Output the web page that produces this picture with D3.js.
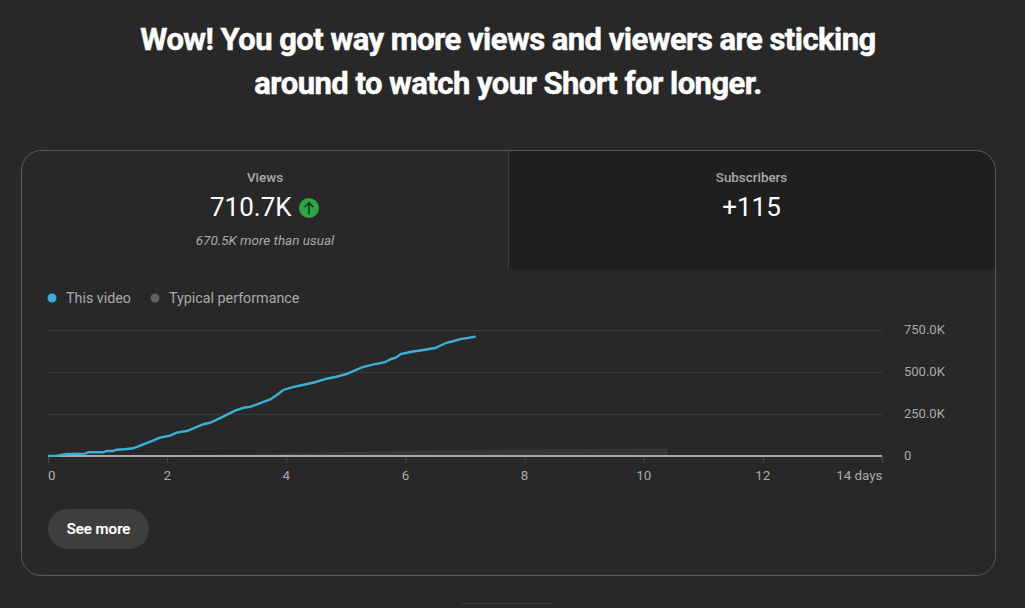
<!DOCTYPE html>
<html>
<head>
<meta charset="utf-8">
<title>Views</title>
<script src="https://cdn.jsdelivr.net/npm/d3@7/dist/d3.min.js"></script>
<style>
html,body{margin:0;padding:0;background:#282828;overflow:hidden}
svg{display:block}
text{font-family:Roboto,sans-serif}
</style>
</head>
<body>
<svg id="chart" width="1025" height="608"></svg>
<script>
// Days since publishing and cumulative views (thousands) for this video
const videoDays = [0,0.146,0.314,0.62,0.68,0.93,0.985,1.10,1.15,1.29,1.43,1.57,1.74,1.88,2.05,2.16,2.33,2.38,2.61,2.72,2.94,3.14,3.28,3.39,3.53,3.73,3.84,3.95,4.09,4.29,4.48,4.68,4.82,5.01,5.27,5.43,5.66,5.77,5.84,5.92,6.08,6.30,6.50,6.69,6.80,6.92,7.03,7.18];
const videoViews = [0,2,12,14,22,22,30,30,37.5,40,46,65,89,109,121,139,149,155,189,198,234,270,287,292,310,337,363,393,409,424,439,460,470,488,528,542,559,579,585,607,619,631,643,674,683,696,702,710.7];
// Typical-performance curve for the same period
const typicalDays = [0,1,2,3,4,5,6,7,8,9,10,10.4];
const typicalViews = [0,2,5,9,16,24,31,36,39,42,44,45];
const xTicks = [0,2,4,6,8,10,12,14];
const yTicks = [0,250,500,750];
const titleLines = ["Wow! You got way more views and viewers are sticking","around to watch your Short for longer."];
const legendLabels = ["This video","Typical performance"];
const legendColors = ["#3ab0d8","#606060"];

const svg = d3.select("#chart");
const x = d3.scaleLinear().domain([0,14]).range([48,882]);
const y = d3.scaleLinear().domain([0,750]).range([456,330]);

const yLabel = v => v === 0 ? "0" : d3.format(".1f")(v) + "K";
const xLabel = v => v === 14 ? "14 days" : String(v);

// Heading
svg.append("g").selectAll("text").data(titleLines).join("text")
  .attr("x",508).attr("y",(d,i)=>50+i*44)
  .attr("text-anchor","middle")
  .attr("font-size",31).attr("font-weight",700)
  .attr("letter-spacing",-0.54)
  .attr("fill","#fff").attr("stroke","#fff").attr("stroke-width",0.5).text(d=>d);

// Card with the darker inactive tab on the right
svg.append("path")
  .attr("d","M508.5 151 H975.5 A20 20 0 0 1 995.5 171 V269 H508.5 Z")
  .attr("fill","#1f1f1f");
svg.append("line").attr("x1",508.5).attr("x2",508.5).attr("y1",151).attr("y2",269).attr("stroke","#3d3d3d");
svg.append("rect").attr("x",21.5).attr("y",150.5).attr("width",974).attr("height",425).attr("rx",20)
  .attr("fill","none").attr("stroke","#5a5a5a");

// Metric tabs
const tab = (cx,label,value)=>{
  svg.append("text").attr("x",cx).attr("y",182).attr("text-anchor","middle")
    .attr("font-size",13.4).attr("font-weight",500).attr("fill","#aaa").text(label);
  return svg.append("text").attr("x",cx).attr("y",216).attr("text-anchor","middle")
    .attr("font-size",26).attr("fill","#fff").text(value);
};
tab(265,"Views","");
svg.append("text").attr("x",210).attr("y",216).attr("font-size",26).attr("fill","#fff").text("710.7K");
tab(751.5,"Subscribers","+115");
svg.append("circle").attr("cx",309).attr("cy",208).attr("r",10).attr("fill","#2ba640");
svg.append("path").attr("d","M309 214 V203 M304.8 207 L309 202.8 L313.2 207")
  .attr("fill","none").attr("stroke","#1c2b1f").attr("stroke-width",1.6);
svg.append("text").attr("x",265).attr("y",245).attr("text-anchor","middle")
  .attr("font-size",13.5).attr("font-style","italic").attr("fill","#aaa").text("670.5K more than usual");

// Legend
const legendX = [[52,66],[155,169]];
legendLabels.forEach((d,i)=>{
  svg.append("circle").attr("cx",legendX[i][0]).attr("cy",298).attr("r",4.5).attr("fill",legendColors[i]);
  svg.append("text").attr("x",legendX[i][1]).attr("y",303).attr("font-size",14.3).attr("fill","#aaa").text(d);
});

// Horizontal gridlines and value axis
svg.append("g").selectAll("line").data(yTicks.filter(d=>d>0)).join("line")
  .attr("x1",x.range()[0]).attr("x2",x.range()[1])
  .attr("y1",d=>y(d)+0.5).attr("y2",d=>y(d)+0.5)
  .attr("stroke","#3c3c3c");
svg.append("g").selectAll("text").data(yTicks).join("text")
  .attr("x",904).attr("y",d=>y(d)+3.6)
  .attr("font-size",13).attr("fill","#aaa").text(yLabel);

// Typical-performance area
svg.append("path").datum(typicalDays.map((d,i)=>[d,typicalViews[i]]))
  .attr("d",d3.area().x(d=>x(d[0])).y0(y(0)).y1(d=>y(d[1])))
  .attr("fill","#363636");

// Time axis
const xAxis = d3.axisBottom(x).tickValues(xTicks).tickSize(7).tickFormat(xLabel);
const ax = svg.append("g").attr("transform","translate(0,456)").call(xAxis);
ax.select(".domain").remove();
ax.selectAll(".tick line").attr("stroke","#444");
ax.selectAll(".tick text").attr("fill","#aaa").attr("font-size",13.4)
  .attr("font-family","Roboto,sans-serif").attr("x",-0.5).attr("y",14).attr("dy","0.71em");
ax.selectAll(".tick").filter(d=>d===0).select("text").attr("text-anchor","start").attr("x",-0.5);
ax.selectAll(".tick").filter(d=>d===14).select("text").attr("text-anchor","end").attr("x",0);
svg.append("line").attr("x1",x(0)).attr("x2",x(14)).attr("y1",y(0)).attr("y2",y(0))
  .attr("stroke","#aaa").attr("stroke-width",2);

// This video's cumulative views
svg.append("path").datum(videoDays.map((d,i)=>[d,videoViews[i]]))
  .attr("d",d3.line().x(d=>x(d[0])).y(d=>y(d[1])))
  .attr("fill","none").attr("stroke","#3ab0d8").attr("stroke-width",2.4);

// Action button
svg.append("rect").attr("x",48).attr("y",509).attr("width",101).attr("height",40).attr("rx",20).attr("fill","#3e3e3e");
svg.append("text").attr("x",98.5).attr("y",534).attr("text-anchor","middle")
  .attr("font-size",15).attr("font-weight",500).attr("fill","#fff").attr("stroke","#fff").attr("stroke-width",0.2).text("See more");

// Divider below the card
svg.append("line").attr("x1",462).attr("x2",553).attr("y1",603.5).attr("y2",603.5).attr("stroke","#404040");
</script>
</body>
</html>
